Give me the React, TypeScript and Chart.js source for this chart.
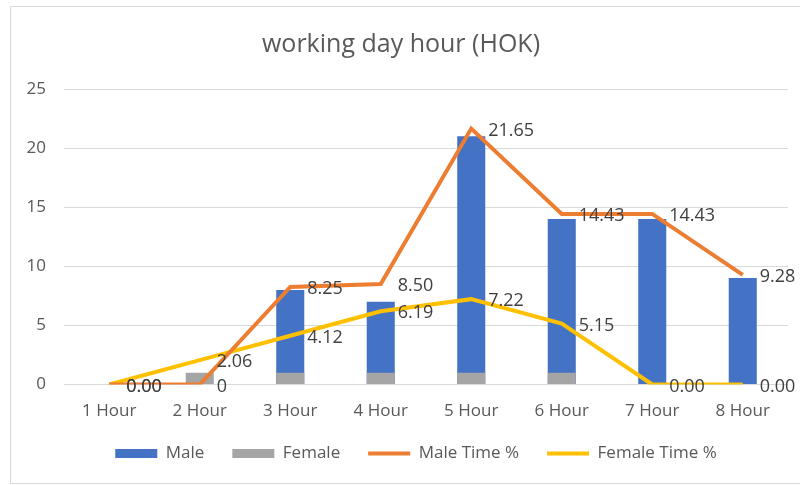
import React, { useEffect, useRef } from "react";
import { Chart, registerables } from "chart.js";

Chart.register(...registerables);

const FONT = "'Open Sans', sans-serif";

const categories = ["1 Hour", "2 Hour", "3 Hour", "4 Hour", "5 Hour", "6 Hour", "7 Hour", "8 Hour"];
const maleCounts = [0, 0, 8, 7, 21, 14, 14, 9];
const femaleCounts = [0, 1, 1, 1, 1, 1, 0, 0];
const maleTimePct = [0, 0, 8.25, 8.5, 21.65, 14.43, 14.43, 9.28];
const femaleTimePct = [0, 2.06, 4.12, 6.19, 7.22, 5.15, 0, 0];
const maleTimeLabels = ["0.00", "0", "8.25", "8.50", "21.65", "14.43", "14.43", "9.28"];
const femaleTimeLabels = ["0.00", "2.06", "4.12", "6.19", "7.22", "5.15", "0.00", "0.00"];
const yTicks = [0, 5, 10, 15, 20, 25];

const pointLabelsByDataset: Record<number, string[]> = {
  2: maleTimeLabels,
  3: femaleTimeLabels,
};

const pointLabelPlugin = {
  id: "pointLabelPlugin",
  afterLayout(chart: any) {
    const lg = chart.legend;
    if (lg) {
      lg.left += 15;
      lg.right += 15;
    }
  },
  afterDatasetsDraw(chart: any) {
    const ctx = chart.ctx;
    ctx.save();
    ctx.font = `18px ${FONT}`;
    ctx.fillStyle = "#404040";
    ctx.textAlign = "left";
    ctx.textBaseline = "middle";
    Object.keys(pointLabelsByDataset).forEach((k) => {
      const idx = Number(k);
      const labels = pointLabelsByDataset[idx];
      const meta = chart.getDatasetMeta(idx);
      meta.data.forEach((el: any, j: number) => {
        ctx.fillText(labels[j], el.x + 17, el.y + 2);
      });
    });
    ctx.restore();
  },
};

export default function App() {
  const canvasRef = useRef<HTMLCanvasElement | null>(null);

  useEffect(() => {
    if (!canvasRef.current) return;
    const defaultGen = (Chart as any).defaults.plugins.legend.labels.generateLabels;
    const chart = new Chart(canvasRef.current, {
      type: "bar",
      data: {
        labels: categories,
        datasets: [
          {
            type: "bar",
            label: "Male",
            data: maleCounts,
            backgroundColor: "#4472C4",
            borderWidth: 0,
            grouped: false,
            order: 3,
            categoryPercentage: 0.31,
            barPercentage: 1,
          } as any,
          {
            type: "bar",
            label: "Female",
            data: femaleCounts,
            backgroundColor: "#A5A5A5",
            borderWidth: 0,
            grouped: false,
            order: 2,
            categoryPercentage: 0.31,
            barPercentage: 1,
          } as any,
          {
            type: "line",
            label: "Male Time %",
            data: maleTimePct,
            borderColor: "#ED7D31",
            backgroundColor: "#ED7D31",
            borderWidth: 4,
            pointRadius: 0,
            tension: 0,
            order: 0,
          } as any,
          {
            type: "line",
            label: "Female Time %",
            data: femaleTimePct,
            borderColor: "#FFC000",
            backgroundColor: "#FFC000",
            borderWidth: 4,
            pointRadius: 0,
            tension: 0,
            order: 1,
          } as any,
        ],
      },
      options: {
        responsive: false,
        animation: false,
        layout: { padding: { left: 14, right: 12, top: 0, bottom: 13 } },
        plugins: {
          tooltip: { enabled: false },
          title: {
            display: true,
            text: "working day hour (HOK)",
            color: "#595959",
            font: { family: FONT, size: 25, weight: "normal" as any, lineHeight: 1.2 },
            padding: { top: 30, bottom: 29 },
          },
          legend: {
            position: "bottom",
            labels: {
              color: "#595959",
              font: { family: FONT, size: 17 },
              usePointStyle: true,
              pointStyleWidth: 42,
              boxHeight: 9,
              padding: 28,
              sort: (a: any, b: any) => a.datasetIndex - b.datasetIndex,
              generateLabels: (chart: any) => {
                const items = defaultGen(chart);
                return items.map((it: any) => {
                  const isLine = it.datasetIndex >= 2;
                  return {
                    ...it,
                    pointStyle: isLine ? "line" : "rect",
                    lineWidth: isLine ? 4 : 0,
                  };
                });
              },
            },
          },
        },
        scales: {
          x: {
            grid: { display: false, drawTicks: false },
            border: { display: false },
            ticks: { color: "#595959", font: { family: FONT, size: 17 }, padding: 16 },
            afterFit: (s: any) => {
              s.height = 32.5;
            },
          },
          y: {
            min: 0,
            max: 25,
            afterBuildTicks: (s: any) => {
              s.ticks = yTicks.map((v) => ({ value: v }));
            },
            grid: { color: "#D9D9D9", lineWidth: 1, drawTicks: false },
            border: { display: false },
            ticks: { color: "#595959", font: { family: FONT, size: 17 }, padding: 18 },
            afterFit: (s: any) => {
              s.width = 50;
            },
          },
        },
      },
      plugins: [pointLabelPlugin],
    });
    return () => chart.destroy();
  }, []);

  return (
    <div style={{ position: "absolute", left: 0, top: 0, width: 800, height: 485, background: "#ffffff" }}>
      <div
        style={{
          position: "absolute",
          left: 10,
          top: 6,
          width: 800,
          height: 476,
          borderTop: "1px solid #D9D9D9",
          borderLeft: "1px solid #D9D9D9",
          borderBottom: "1px solid #D9D9D9",
        }}
      />
      <canvas ref={canvasRef} width={800} height={485} style={{ position: "absolute", left: 0, top: 0 }} />
    </div>
  );
}
